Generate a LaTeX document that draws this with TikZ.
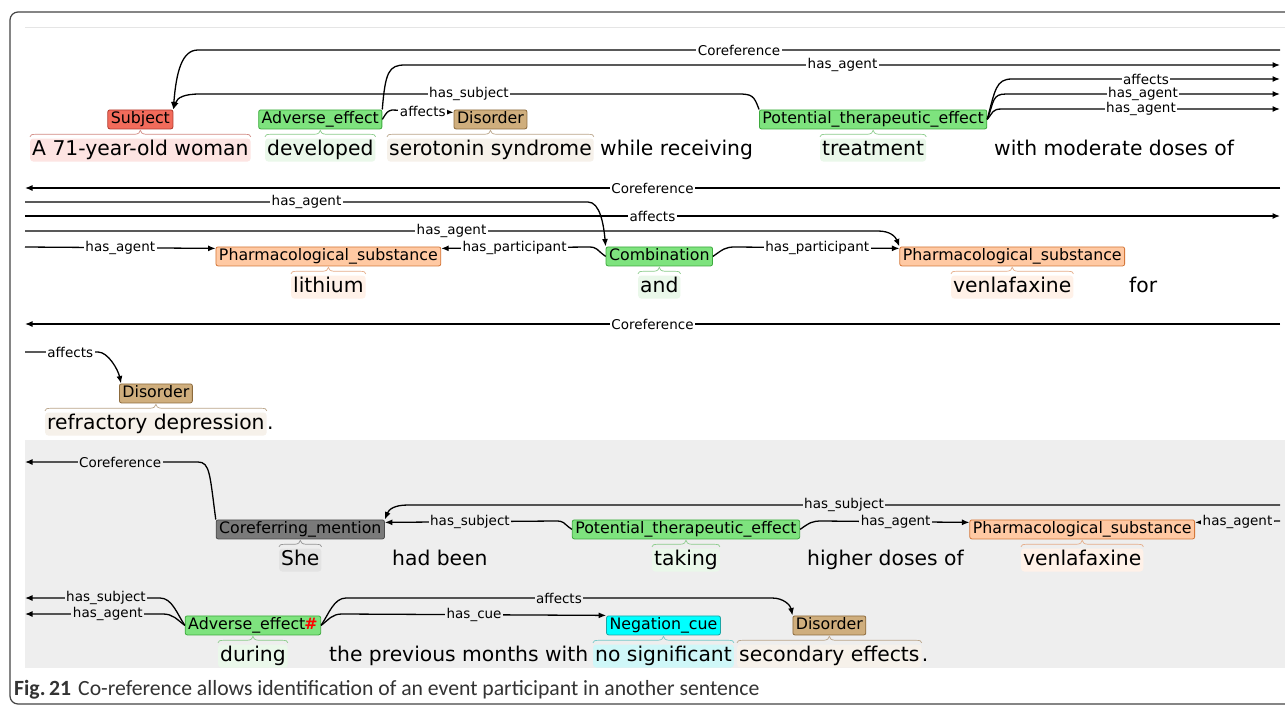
\documentclass[tikz,border=0pt]{standalone}
\usepackage{fontspec}
\usetikzlibrary{arrows.meta,positioning,calc}
\newfontfamily\bratfont{DejaVu Sans}
\newfontfamily\capfont{Carlito}
\definecolor{rahmen}{HTML}{444444}
\definecolor{grauflaeche}{HTML}{EEEEEE}
\definecolor{rosa}{HTML}{F26B5B}
\definecolor{rosarand}{HTML}{B23A2E}
\definecolor{rosahell}{HTML}{FDE4E2}
\definecolor{gruen}{HTML}{7EE37E}
\definecolor{gruenrand}{HTML}{3DAA3D}
\definecolor{gruenhell}{HTML}{EAF8EA}
\definecolor{braun}{HTML}{CFAE7D}
\definecolor{braunrand}{HTML}{8C6A3C}
\definecolor{braunhell}{HTML}{F6F1EA}
\definecolor{orange}{HTML}{FFC9A3}
\definecolor{orangerand}{HTML}{D4773A}
\definecolor{orangehell}{HTML}{FFF1E8}
\definecolor{cyan}{HTML}{00FFFF}
\definecolor{cyanrand}{HTML}{1AA5A5}
\definecolor{cyanhell}{HTML}{CFF7F8}
\definecolor{grau}{HTML}{7A7A7A}
\definecolor{graurand}{HTML}{4D4D4D}
\definecolor{grauhell}{HTML}{E3E3E3}
\definecolor{captext}{HTML}{333333}
\newcommand{\wortgr}{\bratfont\fontsize{20.3}{24}\selectfont}
\newcommand{\typgr}{\bratfont\fontsize{15.8}{18}\selectfont}
\newcommand{\bogengr}{\bratfont\fontsize{13.5}{16}\selectfont}
\newcommand{\capgr}{\capfont\fontsize{21.7}{25}\selectfont}
\tikzset{wort/.style={font=\wortgr,anchor=base west,inner xsep=2pt,inner ysep=2pt,
    text height=14.5pt,text depth=4.5pt,rounded corners=3pt},
  typ/.style={font=\typgr,draw,line width=0.8pt,rounded corners=2pt,inner xsep=3pt,
    inner ysep=2.25pt,text height=11pt,text depth=3.5pt},
  subjekt/.style={typ,fill=rosa,draw=rosarand},
  ereignis/.style={typ,fill=gruen,draw=gruenrand},
  stoerung/.style={typ,fill=braun,draw=braunrand},
  substanz/.style={typ,fill=orange,draw=orangerand},
  negation/.style={typ,fill=cyan,draw=cyanrand},
  koref/.style={typ,fill=grau,draw=graurand},
  bogen/.style={line width=1.3pt,draw=black},
  bogentext/.style={font=\bogengr,fill=white,inner xsep=1.5pt,inner ysep=1pt},
  bogentextg/.style={bogentext,fill=grauflaeche},
  klammerlinie/.style={line width=0.7pt}}
% geschweifte Klammer ueber einem Wort
\newcommand{\klammer}[2]{\draw[klammerlinie,#1]
  ($(#2.north west)+(0,-1.5)$) .. controls +(0,-2) and +(-4,0) .. ($(#2.north west)+(6,-4)$)
  -- ($(#2.north)+(-6,-4)$) .. controls +(4,0) and +(0,2) .. ($(#2.north)+(0,-8)$)
  .. controls +(0,2) and +(-4,0) .. ($(#2.north)+(6,-4)$)
  -- ($(#2.north east)+(-6,-4)$) .. controls +(4,0) and +(0,-2) .. ($(#2.north east)+(0,-1.5)$);}
\begin{document}
\begin{tikzpicture}[x=1pt,y=-1pt,>={Latex[length=7.5pt,width=6pt]}]
\useasboundingbox (0,0) rectangle (1285,707);
\clip (0,0) rectangle (1285,707);
\fill[white] (0,0) rectangle (1285,707);
\draw[rahmen,line width=1.2pt,rounded corners=8pt] (1300,12) -- (10,12) -- (10,704) -- (1300,704);
\draw[gray!20,line width=1pt] (25,27) -- (1285,27);
\fill[grauflaeche] (25,440) rectangle (1285,668);
% Satz 1
\node[wort,fill=rosahell] (w11) at (30,155) {A 71-year-old woman};
\node[wort,fill=gruenhell] (w12) at (265,155) {developed};
\node[wort,fill=braunhell] (w13) at (387,155) {serotonin syndrome};
\node[wort] (w14) at (598,155) {while receiving};
\node[wort,fill=gruenhell] (w15) at (820,155) {treatment};
\node[wort] (w16) at (992,155) {with moderate doses of};
\node[subjekt,above=9pt of w11] (subj) {Subject};
\node[ereignis,above=9pt of w12] (ae1) {Adverse\_effect};
\node[stoerung,above=9pt of w13] (dis1) {Disorder};
\node[ereignis,above=9pt of w15] (pte1) {Potential\_therapeutic\_effect};
\klammer{rosarand!60}{w11}
\klammer{gruenrand!60}{w12}
\klammer{braunrand!60}{w13}
\klammer{gruenrand!60}{w15}
\coordinate (r1a) at (1280,50);
\coordinate (r1b) at (1280,65);
\coordinate (r1c) at (1280,79);
\coordinate (r1d) at (1280,94);
\coordinate (r1e) at (1280,109);
\draw[bogen,<-] (subj.north east) .. controls +(3,-38) and +(-16,0) .. (198,50) -- node[bogentext]{Coreference} (r1a);
\draw[bogen,->] (ae1.north east) .. controls +(3,-38) and +(-16,0) .. (405,65) -- node[bogentext]{has\_agent} (r1b);
\draw[bogen,->] (pte1.north west) .. controls +(-5,-14) and +(14,0) .. (738,94) -- node[bogentext]{has\_subject} (200,94) .. controls +(-16,0) and +(4,-12) .. (subj.north east);
\draw[bogen,->] (ae1.east) .. controls +(5,-8) .. (392,110) -- node[bogentext]{affects} ($(dis1.west)+(0,-7)$);
\draw[bogen,->] (pte1.east) .. controls +(8,-30) and +(-16,0) .. (1012,79) -- node[bogentext]{affects} (r1c);
\draw[bogen,->] (pte1.east) .. controls +(7,-18) and +(-14,0) .. (1006,94) -- node[bogentext]{has\_agent} (r1d);
\draw[bogen,->] (pte1.east) .. controls +(6,-7) and +(-10,0) .. (1002,109) -- node[bogentext]{has\_agent} (r1e);
% Satz 2
\node[wort,fill=orangehell] (w21) at (291,292) {lithium};
\node[wort,fill=gruenhell] (w22) at (638,292) {and};
\node[wort,fill=orangehell] (w23) at (951,292) {venlafaxine};
\node[wort] (w24) at (1127,292) {for};
\node[substanz,above=9pt of w21] (ps1) {Pharmacological\_substance};
\node[ereignis,above=9pt of w22] (comb) {Combination};
\node[substanz,above=9pt of w23] (ps2) {Pharmacological\_substance};
\klammer{orangerand!60}{w21}
\klammer{gruenrand!60}{w22}
\klammer{orangerand!60}{w23}
\coordinate (l2a) at (25,188);
\coordinate (r2a) at (1280,188);
\coordinate (l2b) at (25,202);
\coordinate (l2c) at (25,216);
\coordinate (r2c) at (1280,216);
\coordinate (l2d) at (25,231);
\coordinate (l2e) at (25,247);
\draw[bogen,->] (r2a) -- node[bogentext]{Coreference} (l2a);
\draw[bogen,->] (l2b) -- node[bogentext]{has\_agent} (588,202) .. controls +(12,0) and +(-2,-22) .. (comb.north west);
\draw[bogen,->] (l2c) -- node[bogentext]{affects} (r2c);
\draw[bogen,->] (l2d) -- node[bogentext]{has\_agent} (878,231) .. controls +(12,0) and +(-4,-10) .. (ps2.north west);
\draw[bogen,->] (l2e) -- node[bogentext]{has\_agent} ($(ps1.west)+(0,-8)$);
\draw[bogen,->] (comb.west) .. controls +(-10,-7) and +(10,0) .. (588,247) -- node[bogentext]{has\_participant} ($(ps1.east)+(0,-8)$);
\draw[bogen,->] (comb.east) .. controls +(10,-7) and +(-10,0) .. (735,247) -- node[bogentext]{has\_participant} ($(ps2.west)+(0,-8)$);
% Satz 3
\node[wort,fill=braunhell] (w31) at (45,429) {refractory depression};
\node[wort,inner xsep=0pt] (w32) at (w31.base east) {.};
\node[stoerung,above=9pt of w31] (dis3) {Disorder};
\klammer{braunrand!60}{w31}
\coordinate (l3a) at (25,324);
\coordinate (r3a) at (1280,324);
\coordinate (l3b) at (25,352);
\draw[bogen,->] (r3a) -- node[bogentext]{Coreference} (l3a);
\draw[bogen,->] (l3b) -- node[bogentext,pos=0.62]{affects} (98,352) .. controls +(10,0) and +(-3,-14) .. ($(dis3.north west)+(2,0)$);
% Satz 4 (grau)
\node[wort,fill=grauhell] (w41) at (279,565) {She};
\node[wort] (w42) at (390,565) {had been};
\node[wort,fill=gruenhell] (w43) at (652,565) {taking};
\node[wort] (w44) at (805,565) {higher doses of};
\node[wort,fill=orangehell] (w45) at (1021,565) {venlafaxine};
\node[koref,above=9pt of w41] (cm) {Coreferring\_mention};
\node[ereignis,above=9pt of w43] (pte2) {Potential\_therapeutic\_effect};
\node[substanz,above=9pt of w45] (ps3) {Pharmacological\_substance};
\klammer{graurand!60}{w41}
\klammer{gruenrand!60}{w43}
\klammer{orangerand!60}{w45}
\coordinate (l4a) at (25,462);
\coordinate (r4a) at (1280,505);
\coordinate (r4b) at (1280,521);
\draw[bogen,->] (cm.north west) .. controls +(-6,-45) and +(12,0) .. (198,462) -- node[bogentextg,pos=0.45]{Coreference} (l4a);
\draw[bogen,->] (r4a) -- node[bogentextg]{has\_subject} (408,505) .. controls +(-14,0) and +(4,-10) .. (cm.north east);
\draw[bogen,->] (pte2.west) .. controls +(-10,-7) and +(10,0) .. (555,521) -- node[bogentextg]{has\_subject} ($(cm.east)+(0,-7)$);
\draw[bogen,->] (pte2.east) .. controls +(10,-7) and +(-10,0) .. (822,521) -- node[bogentextg]{has\_agent} ($(ps3.west)+(0,-7)$);
\draw[bogen,->] (r4b) -- node[bogentextg]{has\_agent} ($(ps3.east)+(0,-7)$);
% Satz 5 (grau)
\node[wort,fill=gruenhell] (w51) at (218,661) {during};
\node[wort] (w52) at (327,661) {the previous months with};
\node[wort,fill=cyanhell] (w53) at (593,661) {no significant};
\node[wort,fill=braunhell] (w54) at (737,661) {secondary effects};
\node[wort,inner xsep=0pt] (w55) at (w54.base east) {.};
\node[ereignis,above=9pt of w51] (ae2) {Adverse\_effect\kern-1pt\textcolor{red}{\bfseries\#}};
\node[negation,above=9pt of w53] (neg) {Negation\_cue};
\node[stoerung,above=9pt of w54] (dis5) {Disorder};
\klammer{gruenrand!60}{w51}
\klammer{cyanrand!60}{w53}
\klammer{braunrand!60}{w54}
\coordinate (l5a) at (25,598);
\coordinate (l5b) at (25,614);
\draw[bogen,->] (ae2.west) .. controls +(-8,-12) and +(12,0) .. (160,598) -- node[bogentextg,pos=0.4]{has\_subject} (l5a);
\draw[bogen,->] (ae2.west) .. controls +(-8,-6) and +(10,0) .. (163,614) -- node[bogentextg,pos=0.4]{has\_agent} (l5b);
\draw[bogen,->] (ae2.east) .. controls +(8,-12) and +(-12,0) .. (346,598) -- node[bogentextg]{affects} (772,598) .. controls +(12,0) and +(-2,-10) .. (dis5.north west);
\draw[bogen,->] (ae2.east) .. controls +(8,-6) and +(-10,0) .. (342,614) -- node[bogentextg]{has\_cue} ($(neg.west)+(0,-10)$);
% Bildunterschrift
\node[anchor=base west,inner sep=0pt,font=\capgr,text=captext] (cap) at (14,695) {\textbf{Fig.\,21}\hspace{7pt}Co-reference allows identification of an event participant in another sentence};
\end{tikzpicture}
\end{document}
